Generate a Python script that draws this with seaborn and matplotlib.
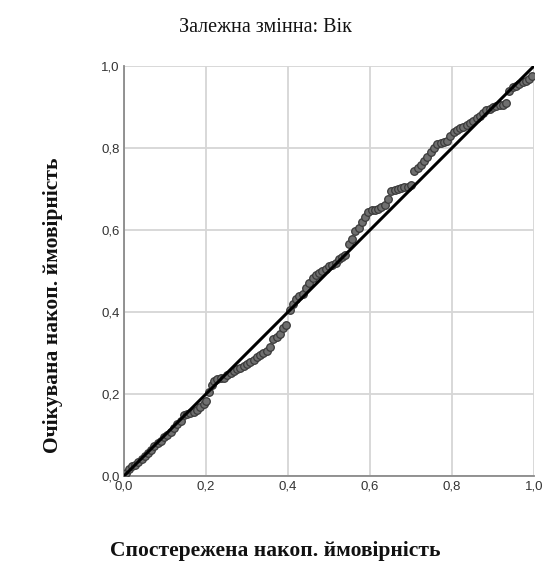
import matplotlib
matplotlib.use("Agg")
import matplotlib.pyplot as plt
import seaborn as sns
import pandas as pd

title = "Залежна змінна: Вік"
xlabel = "Спостережена накоп. ймовірність"
ylabel = "Очікувана накоп. ймовірність"
tick_vals = [0.0, 0.2, 0.4, 0.6, 0.8, 1.0]
tick_labels = ["0,0", "0,2", "0,4", "0,6", "0,8", "1,0"]

observed = [
    0.005, 0.012, 0.02, 0.028, 0.035, 0.043, 0.05, 0.058, 0.066, 0.074, 0.082, 0.09, 0.098,
    0.106, 0.114, 0.122, 0.13, 0.138, 0.146, 0.154, 0.162, 0.17, 0.178, 0.186, 0.194, 0.2,
    0.208, 0.214, 0.22, 0.228, 0.236, 0.244, 0.252, 0.26, 0.268, 0.276, 0.284, 0.292, 0.3,
    0.308, 0.316, 0.324, 0.332, 0.34, 0.348, 0.356, 0.364, 0.372, 0.38, 0.388, 0.396,
    0.404, 0.412, 0.42, 0.428, 0.436, 0.444, 0.452, 0.46, 0.468, 0.476, 0.484, 0.492, 0.5,
    0.508, 0.516, 0.524, 0.532, 0.54, 0.548, 0.556, 0.564, 0.572, 0.58, 0.588, 0.596,
    0.604, 0.612, 0.62, 0.628, 0.636, 0.644, 0.652, 0.66, 0.668, 0.676, 0.684, 0.692, 0.7,
    0.708, 0.716, 0.724, 0.732, 0.74, 0.748, 0.756, 0.764, 0.772, 0.78, 0.788, 0.796,
    0.804, 0.812, 0.82, 0.828, 0.836, 0.844, 0.852, 0.86, 0.868, 0.876, 0.884, 0.892, 0.9,
    0.908, 0.916, 0.924, 0.932, 0.94, 0.948, 0.956, 0.964, 0.972, 0.98, 0.988, 0.996,
]
expected = [
    0.008, 0.018, 0.025, 0.028, 0.035, 0.042, 0.05, 0.057, 0.064, 0.072, 0.08, 0.086, 0.094,
    0.1, 0.107, 0.116, 0.126, 0.135, 0.148, 0.152, 0.154, 0.156, 0.162, 0.168, 0.176, 0.182,
    0.205, 0.222, 0.232, 0.236, 0.238, 0.24, 0.246, 0.252, 0.256, 0.26, 0.264, 0.268, 0.272,
    0.278, 0.284, 0.29, 0.295, 0.3, 0.306, 0.315, 0.335, 0.34, 0.346, 0.36, 0.368,
    0.405, 0.42, 0.432, 0.438, 0.444, 0.458, 0.47, 0.484, 0.49, 0.496, 0.5, 0.505, 0.512,
    0.515, 0.52, 0.53, 0.535, 0.54, 0.565, 0.578, 0.598, 0.604, 0.62, 0.632, 0.645,
    0.648, 0.65, 0.652, 0.655, 0.66, 0.675, 0.694, 0.698, 0.7, 0.702, 0.704, 0.706, 0.71,
    0.745, 0.752, 0.758, 0.768, 0.778, 0.79, 0.8, 0.81, 0.812, 0.815, 0.818, 0.83,
    0.838, 0.845, 0.85, 0.852, 0.855, 0.86, 0.865, 0.872, 0.878, 0.886, 0.892, 0.896, 0.9,
    0.902, 0.904, 0.906, 0.91, 0.94, 0.948, 0.952, 0.956, 0.96, 0.964, 0.968, 0.975,
]
ref_line_x = [0.0, 1.0]
ref_line_y = [0.0, 1.0]

sns.set_theme(style="white")
plt.rcParams['font.family'] = ['Liberation Sans', 'DejaVu Sans']

df = pd.DataFrame({"obs": observed, "exp": expected})
ref = pd.DataFrame({"x": ref_line_x, "y": ref_line_y})

fig = plt.figure(figsize=(5.46, 5.64), dpi=100)
ax = fig.add_axes([124/546, 1-476/564, 410/546, 410/564])

sns.scatterplot(data=df, x="obs", y="exp", ax=ax, s=30, color="#6f6f6f",
                edgecolor="#3a3a3a", linewidth=0.9, zorder=3)
sns.lineplot(data=ref, x="x", y="y", ax=ax, color="black", linewidth=2.2, zorder=4)

ax.set_xlim(0, 1)
ax.set_ylim(0, 1)
ax.set_xticks(tick_vals)
ax.set_yticks(tick_vals)
ax.set_xticklabels(tick_labels)
ax.set_yticklabels(tick_labels)
ax.tick_params(axis='both', length=0, labelsize=9.5, colors="#333333", pad=3)
ax.grid(True, color="#d6d6d6", linewidth=1.3)
ax.set_axisbelow(True)
for s in ["top", "right"]:
    ax.spines[s].set_visible(False)
for s in ["left", "bottom"]:
    ax.spines[s].set_color("#8a8a8a")
    ax.spines[s].set_linewidth(1.3)
ax.set_xlabel("")
ax.set_ylabel("")

fig.text(265/546, 1-28/564, title, ha="center", va="center",
         family=["Liberation Serif", "DejaVu Serif"], fontsize=14.5, color="#111111")
fig.text(275/546, 1-551/564, xlabel, ha="center", va="center",
         family=["Liberation Serif", "DejaVu Serif"], fontsize=15.5, fontweight="bold", color="#111111")
fig.text(53/546, 1-305/564, ylabel, ha="center", va="center", rotation=90,
         family=["Liberation Serif", "DejaVu Serif"], fontsize=15.5, fontweight="bold", color="#111111")

fig.savefig("out.png", dpi=100)
